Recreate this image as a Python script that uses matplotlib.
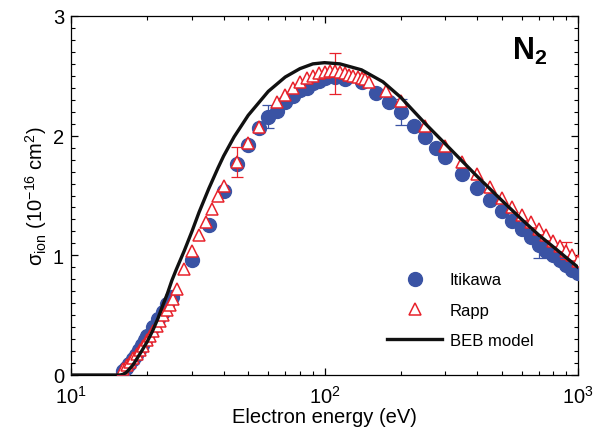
import matplotlib
matplotlib.use("Agg")
import matplotlib.pyplot as plt
from matplotlib.ticker import LogLocator, MultipleLocator, NullFormatter
from matplotlib.lines import Line2D

plt.rcParams['font.family'] = ['Liberation Sans', 'DejaVu Sans']
plt.rcParams['mathtext.fontset'] = 'custom'
plt.rcParams['mathtext.rm'] = 'Liberation Sans'
plt.rcParams['mathtext.it'] = 'Liberation Sans:italic'
plt.rcParams['mathtext.bf'] = 'Liberation Sans:bold'

# ---- data ----
itikawa_E = [16, 16.5, 17, 17.5, 18, 18.5, 19, 19.5, 20, 21, 22, 23, 24, 25,
             30, 35, 40, 45, 50, 55, 60, 65, 70, 75, 80, 85, 90, 95, 100, 110,
             120, 140, 160, 180, 200, 225, 250, 275, 300, 350, 400, 450, 500,
             550, 600, 650, 700, 750, 800, 850, 900, 950, 1000]
itikawa_s = [0.03, 0.06, 0.09, 0.13, 0.17, 0.21, 0.25, 0.29, 0.33, 0.40, 0.47, 0.53, 0.59, 0.65,
             0.96, 1.25, 1.54, 1.76, 1.92, 2.06, 2.16, 2.21, 2.28, 2.33, 2.38, 2.40, 2.44, 2.46, 2.48, 2.49,
             2.47, 2.45, 2.36, 2.28, 2.20, 2.08, 1.99, 1.90, 1.82, 1.68, 1.56, 1.46, 1.37,
             1.29, 1.22, 1.15, 1.09, 1.04, 1.00, 0.96, 0.92, 0.88, 0.85]
itikawa_err_E = [30, 60, 200, 700]
itikawa_err_s = [0.96, 2.16, 2.20, 1.02]
itikawa_err = [0.03, 0.10, 0.11, 0.04]

rapp_E = [16.1, 16.6, 17.1, 17.6, 18.2, 18.7, 19.3, 19.9, 20.5, 21.1, 21.8, 22.4, 23.1, 23.9,
          24.6, 25.3, 26.1, 28, 30, 32, 34, 36, 38, 40, 45, 50, 55, 65, 70, 75, 80, 85,
          90, 95, 100, 105, 110, 115, 120, 125, 130, 135, 140, 145, 150, 175, 200, 250,
          300, 350, 400, 450, 500, 550, 600, 650, 700, 750, 800, 850, 900, 950, 1000]
rapp_s = [0.05, 0.08, 0.11, 0.14, 0.175, 0.21, 0.245, 0.29, 0.33, 0.365, 0.41, 0.45, 0.50, 0.54,
          0.585, 0.635, 0.72, 0.885, 1.04, 1.17, 1.28, 1.39, 1.50, 1.58, 1.78, 1.94, 2.07, 2.28, 2.34,
          2.40, 2.45, 2.48, 2.50, 2.52, 2.53, 2.54, 2.54, 2.53, 2.52, 2.51, 2.50, 2.49, 2.48,
          2.47, 2.45, 2.37, 2.29, 2.08, 1.91, 1.78, 1.68, 1.57, 1.48, 1.40, 1.34, 1.28, 1.22,
          1.17, 1.12, 1.08, 1.04, 1.00, 0.95]
rapp_err_E = [45, 110, 900]
rapp_err_s = [1.78, 2.52, 1.04]
rapp_err = [0.125, 0.17, 0.07]

beb_E = [10, 15.6, 16, 16.5, 17, 17.5, 18, 19, 20, 21, 22, 23, 24, 25, 26, 28, 30,
         32, 35, 38, 40, 44, 50, 60, 70, 80, 90, 100, 115, 140, 170, 200, 250,
         300, 400, 500, 600, 700, 800, 900, 1000]
beb_s = [0.0, 0.0, 0.005, 0.02, 0.05, 0.08, 0.12, 0.20, 0.28, 0.37, 0.47, 0.58, 0.68, 0.79,
         0.88, 1.04, 1.20, 1.36, 1.56, 1.73, 1.83, 1.99, 2.17, 2.37, 2.49, 2.56, 2.60, 2.61,
         2.60, 2.55, 2.45, 2.32, 2.10, 1.93, 1.66, 1.46, 1.30, 1.17, 1.07, 0.98, 0.90]

blue = '#3a53a4'
red = '#e8222b'

fig = plt.figure(figsize=(5.95, 4.31), dpi=100)
ax = fig.add_axes([71/595, 1-376/431, 507/595, 359/431])

ax.errorbar(itikawa_err_E, itikawa_err_s, yerr=itikawa_err, fmt='none',
            ecolor=blue, elinewidth=0.9, capsize=4.5, capthick=0.9, zorder=2)
ax.plot(itikawa_E, itikawa_s, 'o', color=blue, ms=10, mec=blue, zorder=3)
ax.errorbar(rapp_err_E, rapp_err_s, yerr=rapp_err, fmt='none',
            ecolor=red, elinewidth=0.9, capsize=4.5, capthick=0.9, zorder=4)
ax.plot(rapp_E, rapp_s, '^', mfc='white', mec=red, mew=1.1, ms=9, zorder=5)
ax.plot(beb_E, beb_s, '-', color='#111111', lw=2.4, zorder=6)

ax.set_xscale('log')
ax.set_xlim(10, 1000)
ax.set_ylim(0, 3)
ax.set_yticks([0, 1, 2, 3])
ax.yaxis.set_minor_locator(MultipleLocator(0.1))
ax.xaxis.set_minor_locator(LogLocator(base=10, subs=range(2, 10)))
ax.xaxis.set_minor_formatter(NullFormatter())

ax.tick_params(which='both', direction='in', top=True, right=True, labelsize=14.5)
ax.tick_params(which='major', length=5, width=0.9)
ax.tick_params(which='minor', length=3, width=0.8)
ax.tick_params(axis='x', which='major', pad=7)
ax.tick_params(axis='y', which='major', pad=5)
for s in ax.spines.values():
    s.set_linewidth(0.9)

ax.set_xlabel('Electron energy (eV)', fontsize=14.5, labelpad=0)
ax.set_ylabel(r'$\mathregular{σ_{ion}\ (10^{-16}\ cm^{2})}$', fontsize=14.5, labelpad=3)

ax.text(0.905, 0.905, r'$\mathbf{N_2}$', transform=ax.transAxes, fontsize=22,
        ha='center', va='center')

handles = [Line2D([], [], marker='o', ls='none', color=blue, ms=10),
           Line2D([], [], marker='^', ls='none', mfc='white', mec=red, mew=1.1, ms=9),
           Line2D([], [], color='#111111', lw=2.4)]
ax.legend(handles, ['Itikawa', 'Rapp', 'BEB model'], frameon=False, loc='lower left',
          bbox_to_anchor=((387-71)/507, (376-349)/359), borderaxespad=0, borderpad=0,
          handlelength=3.3, handletextpad=0.45, labelspacing=0.92, fontsize=12)

fig.savefig('out.png', dpi=100)
